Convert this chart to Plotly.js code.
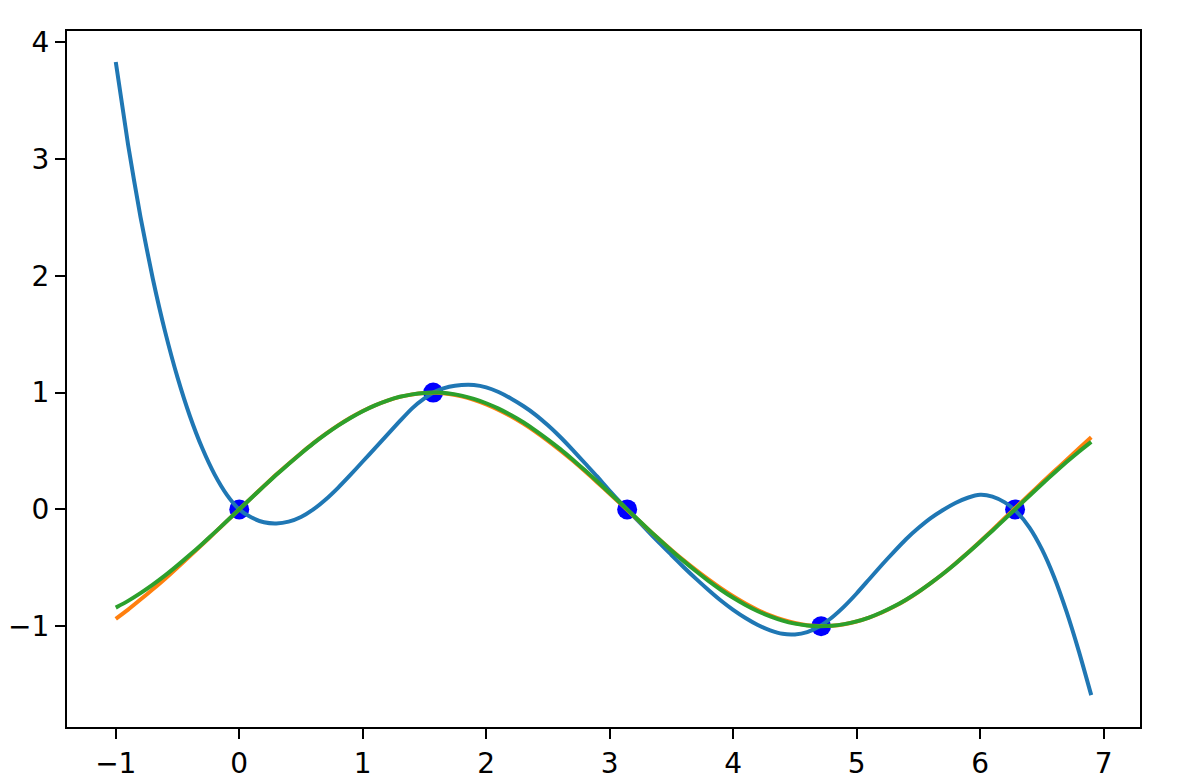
<!DOCTYPE html>
<html>
<head>
<meta charset="utf-8">
<script src="https://cdn.plot.ly/plotly-3.0.1.min.js"></script>
<style>html,body{margin:0;padding:0;background:#fff;}#chart{width:1181px;height:780px;}</style>
</head>
<body>
<div id="chart"></div>
<script>
// Known sample points
const pointX = [0, 1.5708, 3.1416, 4.7124, 6.2832];
const pointY = [0, 1, 0, -1, 0];

// Shared x grid of the curves
const curveX = [-1.0,-0.9,-0.8,-0.7,-0.6,-0.5,-0.4,-0.3,-0.2,-0.1,
  0.0,0.1,0.2,0.3,0.4,0.5,0.6,0.7,0.8,0.9,
  1.0,1.1,1.2,1.3,1.4,1.5,1.6,1.7,1.8,1.9,
  2.0,2.1,2.2,2.3,2.4,2.5,2.6,2.7,2.8,2.9,
  3.0,3.1,3.2,3.3,3.4,3.5,3.6,3.7,3.8,3.9,
  4.0,4.1,4.2,4.3,4.4,4.5,4.6,4.7,4.8,4.9,
  5.0,5.1,5.2,5.3,5.4,5.5,5.6,5.7,5.8,5.9,
  6.0,6.1,6.2,6.3,6.4,6.5,6.6,6.7,6.8,6.9];

// Blue curve
const blueY = [3.83,3.12,2.505,1.975,1.52,1.13,0.80,0.525,0.30,0.125,
  0.0,-0.07,-0.11,-0.12,-0.105,-0.065,0.0,0.085,0.185,0.295,
  0.41,0.525,0.64,0.755,0.865,0.95,1.015,1.05,1.065,1.065,
  1.045,1.005,0.95,0.885,0.81,0.72,0.62,0.51,0.395,0.28,
  0.16,0.045,-0.065,-0.175,-0.285,-0.39,-0.495,-0.595,-0.69,-0.78,
  -0.86,-0.93,-0.99,-1.035,-1.065,-1.07,-1.05,-1.00,-0.925,-0.83,
  -0.72,-0.60,-0.48,-0.365,-0.255,-0.16,-0.075,-0.005,0.055,0.10,
  0.125,0.11,0.06,-0.025,-0.155,-0.34,-0.58,-0.875,-1.215,-1.59];

// Orange curve
const orangeY = [-0.937,-0.858,-0.772,-0.684,-0.593,-0.497,-0.399,-0.301,-0.201,-0.100,
  0.0,0.101,0.200,0.298,0.391,0.481,0.567,0.646,0.719,0.784,
  0.842,0.891,0.932,0.963,0.984,0.996,0.998,0.988,0.968,0.938,
  0.899,0.852,0.797,0.734,0.664,0.587,0.505,0.418,0.326,0.231,
  0.134,0.037,-0.061,-0.159,-0.255,-0.347,-0.436,-0.520,-0.600,-0.675,
  -0.744,-0.806,-0.861,-0.907,-0.945,-0.973,-0.991,-0.999,-0.996,-0.983,
  -0.960,-0.927,-0.885,-0.834,-0.775,-0.707,-0.632,-0.551,-0.463,-0.371,
  -0.274,-0.175,-0.074,0.027,0.128,0.228,0.326,0.424,0.521,0.618];

// Green curve
const greenY = [-0.841,-0.783,-0.717,-0.644,-0.565,-0.479,-0.389,-0.296,-0.199,-0.100,
  0.0,0.100,0.199,0.296,0.389,0.479,0.565,0.644,0.717,0.783,
  0.841,0.891,0.932,0.964,0.985,0.997,1.000,0.992,0.974,0.946,
  0.909,0.863,0.808,0.746,0.675,0.598,0.516,0.427,0.335,0.239,
  0.141,0.042,-0.058,-0.158,-0.256,-0.351,-0.443,-0.530,-0.612,-0.688,
  -0.757,-0.818,-0.872,-0.916,-0.952,-0.978,-0.994,-1.000,-0.996,-0.982,
  -0.959,-0.926,-0.883,-0.832,-0.773,-0.706,-0.631,-0.551,-0.465,-0.374,
  -0.279,-0.182,-0.083,0.017,0.117,0.215,0.312,0.405,0.494,0.578];

const xTicks = [-1,0,1,2,3,4,5,6,7];
const yTicks = [-1,0,1,2,3,4];

const traces = [
  {x: pointX, y: pointY, mode: 'markers', type: 'scatter',
   marker: {color: '#0000ff', size: 20}},
  {x: curveX, y: blueY, mode: 'lines', type: 'scatter',
   line: {color: '#1f77b4', width: 4, shape: 'spline', smoothing: 0.6}},
  {x: curveX, y: orangeY, mode: 'lines', type: 'scatter',
   line: {color: '#ff7f0e', width: 4, shape: 'spline', smoothing: 0.6}},
  {x: curveX, y: greenY, mode: 'lines', type: 'scatter',
   line: {color: '#2ca02c', width: 4, shape: 'spline', smoothing: 0.6}}
];

const axisCommon = {
  showgrid: false, zeroline: false, showline: true, mirror: true,
  linecolor: '#000', linewidth: 2, ticks: 'outside', ticklen: 10,
  tickwidth: 2, tickcolor: '#000',
  tickfont: {family: 'DejaVu Sans', size: 28, color: '#000'}
};

const layout = {
  width: 1181, height: 780,
  margin: {l: 67, r: 41, t: 31, b: 53},
  paper_bgcolor: '#fff', plot_bgcolor: '#fff',
  showlegend: false,
  xaxis: Object.assign({}, axisCommon, {range: [-1.395, 7.295], tickvals: xTicks, ticktext: xTicks.map(v => v < 0 ? '\u2212' + Math.abs(v) : String(v))}),
  yaxis: Object.assign({}, axisCommon, {range: [-1.863, 4.096], tickvals: yTicks, ticktext: yTicks.map(v => v < 0 ? '\u2212' + Math.abs(v) : String(v))})
};

Plotly.newPlot('chart', traces, layout, {displayModeBar: false, staticPlot: true});
</script>
</body>
</html>
